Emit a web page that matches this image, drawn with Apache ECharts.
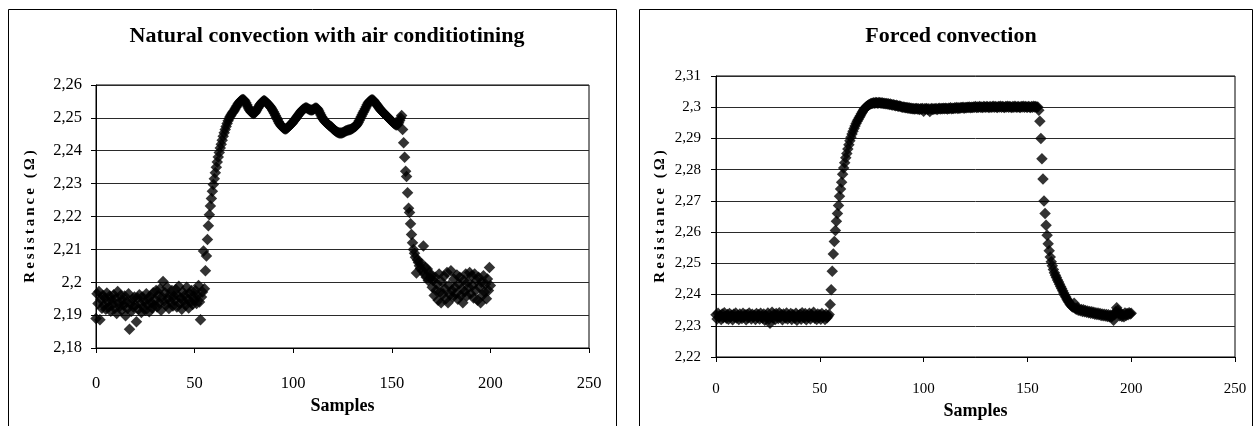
<!DOCTYPE html>
<html>
<head>
<meta charset="utf-8">
<title>Resistance vs samples</title>
<script src="https://cdn.jsdelivr.net/npm/echarts@6/dist/echarts.min.js"></script>
<style>
  html, body { margin: 0; padding: 0; background: #fff; }
  #chart { width: 1257px; height: 426px; }
</style>
</head>
<body>
<div id="chart"></div>
<script>
// Sample spacing along the x axis (two readings per sample unit)
const SAMPLE_STEP = 0.5;

// Natural convection with air conditioning: resistance (ohm), samples 0..200
const naturalResistance = [
  2.1890, 2.1965, 2.1935, 2.1972, 2.1886, 2.1948, 2.1921, 2.1960, 2.1930, 2.1952, 2.1918, 2.1967, 2.1940, 2.1925, 2.1958, 2.1912, 2.1945, 2.1932, 2.1962, 2.1920,
  2.1950, 2.1905, 2.1972, 2.1938, 2.1926, 2.1960, 2.1915, 2.1945, 2.1930, 2.1958, 2.1898, 2.1940, 2.1920, 2.1965, 2.1857, 2.1935, 2.1912, 2.1948, 2.1925, 2.1955,
  2.1930, 2.1880, 2.1952, 2.1918, 2.1962, 2.1935, 2.1908, 2.1955, 2.1925, 2.1942, 2.1915, 2.1965, 2.1932, 2.1950, 2.1910, 2.1958, 2.1938, 2.1922, 2.1968, 2.1930,
  2.1945, 2.1975, 2.1925, 2.1960, 2.1938, 2.1980, 2.1915, 2.1955, 2.2002, 2.1942, 2.1968, 2.1930, 2.1985, 2.1950, 2.1920, 2.1962, 2.1940, 2.1975, 2.1928, 2.1958,
  2.1945, 2.1978, 2.1925, 2.1960, 2.1988, 2.1935, 2.1952, 2.1918, 2.1970, 2.1942, 2.1960, 2.1930, 2.1985, 2.1948, 2.1922, 2.1965, 2.1940, 2.1975, 2.1932, 2.1958,
  2.1945, 2.1975, 2.1935, 2.1960, 2.1990, 2.1940, 2.1886, 2.1955, 2.1970, 2.2095, 2.1980, 2.2035, 2.2080, 2.2130, 2.2172, 2.2205, 2.2232, 2.2255, 2.2277, 2.2297,
  2.2315, 2.2333, 2.2350, 2.2366, 2.2381, 2.2395, 2.2408, 2.2420, 2.2432, 2.2444, 2.2455, 2.2465, 2.2474, 2.2483, 2.2491, 2.2498, 2.2504, 2.2509, 2.2514, 2.2518,
  2.2522, 2.2527, 2.2532, 2.2537, 2.2542, 2.2546, 2.2550, 2.2553, 2.2555, 2.2556, 2.2555, 2.2551, 2.2546, 2.2540, 2.2534, 2.2528, 2.2523, 2.2519, 2.2516, 2.2514,
  2.2513, 2.2515, 2.2519, 2.2524, 2.2529, 2.2534, 2.2539, 2.2543, 2.2547, 2.2550, 2.2552, 2.2552, 2.2550, 2.2547, 2.2544, 2.2541, 2.2537, 2.2533, 2.2529, 2.2524,
  2.2519, 2.2513, 2.2507, 2.2501, 2.2495, 2.2489, 2.2484, 2.2479, 2.2475, 2.2472, 2.2469, 2.2467, 2.2466, 2.2467, 2.2469, 2.2472, 2.2475, 2.2478, 2.2481, 2.2484,
  2.2488, 2.2492, 2.2496, 2.2500, 2.2504, 2.2508, 2.2512, 2.2516, 2.2520, 2.2523, 2.2526, 2.2528, 2.2530, 2.2531, 2.2530, 2.2528, 2.2526, 2.2525, 2.2524, 2.2524,
  2.2525, 2.2527, 2.2529, 2.2530, 2.2529, 2.2526, 2.2521, 2.2515, 2.2509, 2.2503, 2.2498, 2.2494, 2.2490, 2.2487, 2.2484, 2.2481, 2.2478, 2.2476, 2.2474, 2.2472,
  2.2468, 2.2465, 2.2462, 2.2460, 2.2458, 2.2456, 2.2455, 2.2454, 2.2454, 2.2454, 2.2455, 2.2456, 2.2458, 2.2460, 2.2461, 2.2462, 2.2463, 2.2464, 2.2465, 2.2466,
  2.2468, 2.2470, 2.2472, 2.2474, 2.2477, 2.2481, 2.2486, 2.2492, 2.2498, 2.2504, 2.2510, 2.2516, 2.2522, 2.2528, 2.2534, 2.2540, 2.2545, 2.2549, 2.2552, 2.2554,
  2.2555, 2.2554, 2.2551, 2.2547, 2.2543, 2.2539, 2.2535, 2.2531, 2.2527, 2.2523, 2.2520, 2.2517, 2.2514, 2.2511, 2.2508, 2.2505, 2.2502, 2.2499, 2.2496, 2.2493,
  2.2490, 2.2487, 2.2484, 2.2481, 2.2479, 2.2478, 2.2480, 2.2485, 2.2492, 2.2500, 2.2507, 2.2465, 2.2424, 2.2380, 2.2338, 2.2322, 2.2272, 2.2225, 2.2212, 2.2178,
  2.2145, 2.2120, 2.2100, 2.2088, 2.2076, 2.2028, 2.2068, 2.2060, 2.2050, 2.2042, 2.2058, 2.2035, 2.2110, 2.2025, 2.2045, 2.2015, 2.2040, 2.2005, 2.2030, 2.2012,
  2.2020, 2.1985, 2.2005, 2.1960, 2.2015, 2.1975, 2.1995, 2.1945, 2.2025, 2.1970, 2.1938, 2.2000, 2.1965, 2.2018, 2.1980, 2.1950, 2.2030, 2.1938, 2.1990, 2.1962,
  2.2035, 2.1975, 2.1955, 2.2010, 2.1985, 2.1965, 2.2022, 2.1948, 2.1995, 2.2015, 2.1960, 2.1980, 2.1938, 2.2005, 2.1972, 2.2025, 2.1958, 2.2000, 2.1985, 2.2030,
  2.1965, 2.2020, 2.1990, 2.1952, 2.2025, 2.1975, 2.2005, 2.1945, 2.2015, 2.1985, 2.1938, 2.2000, 2.1960, 2.2020, 2.1970, 2.1995, 2.1950, 2.2010, 2.1975, 2.2045,
  2.1990
];

// Forced convection: resistance (ohm), samples 0..200
const forcedResistance = [
  2.2335, 2.2322, 2.2340, 2.2328, 2.2333, 2.2320, 2.2338, 2.2326, 2.2342, 2.2330, 2.2324, 2.2336, 2.2321, 2.2339, 2.2329, 2.2334, 2.2319, 2.2337, 2.2327, 2.2341,
  2.2325, 2.2333, 2.2320, 2.2338, 2.2330, 2.2323, 2.2340, 2.2328, 2.2335, 2.2319, 2.2336, 2.2326, 2.2341, 2.2331, 2.2322, 2.2337, 2.2329, 2.2334, 2.2320, 2.2339,
  2.2327, 2.2335, 2.2322, 2.2340, 2.2330, 2.2324, 2.2338, 2.2318, 2.2333, 2.2326, 2.2341, 2.2321, 2.2308, 2.2329, 2.2343, 2.2325, 2.2336, 2.2320, 2.2339, 2.2331,
  2.2323, 2.2342, 2.2328, 2.2335, 2.2319, 2.2338, 2.2330, 2.2325, 2.2341, 2.2322, 2.2334, 2.2327, 2.2339, 2.2320, 2.2336, 2.2331, 2.2324, 2.2340, 2.2318, 2.2333,
  2.2328, 2.2337, 2.2321, 2.2342, 2.2330, 2.2325, 2.2339, 2.2319, 2.2334, 2.2327, 2.2340, 2.2322, 2.2336, 2.2329, 2.2343, 2.2324, 2.2331, 2.2320, 2.2338, 2.2326,
  2.2335, 2.2321, 2.2339, 2.2328, 2.2333, 2.2320, 2.2337, 2.2326, 2.2331, 2.2336, 2.2368, 2.2415, 2.2475, 2.2530, 2.2570, 2.2605, 2.2635, 2.2660, 2.2685, 2.2715,
  2.2738, 2.2760, 2.2785, 2.2805, 2.2822, 2.2838, 2.2852, 2.2866, 2.2880, 2.2893, 2.2904, 2.2914, 2.2923, 2.2932, 2.2940, 2.2948, 2.2955, 2.2961, 2.2967, 2.2973,
  2.2979, 2.2985, 2.2990, 2.2995, 2.2999, 2.3002, 2.3005, 2.3007, 2.3009, 2.3011, 2.3012, 2.3013, 2.3014, 2.3013, 2.3015, 2.3014, 2.3013, 2.3015, 2.3014, 2.3013,
  2.3014, 2.3012, 2.3013, 2.3011, 2.3012, 2.3010, 2.3011, 2.3009, 2.3010, 2.3008, 2.3007, 2.3008, 2.3006, 2.3005, 2.3006, 2.3004, 2.3003, 2.3004, 2.3002, 2.3001,
  2.3000, 2.3001, 2.2999, 2.2998, 2.2999, 2.2997, 2.2998, 2.2996, 2.2997, 2.2995, 2.2996, 2.2994, 2.2995, 2.2996, 2.2994, 2.2995, 2.2993, 2.2995, 2.2994, 2.2996,
  2.2987, 2.2995, 2.2994, 2.2996, 2.2993, 2.2995, 2.2986, 2.2994, 2.2996, 2.2993, 2.2995, 2.2994, 2.2996, 2.2993, 2.2995, 2.2997, 2.2994, 2.2996, 2.2995, 2.2997,
  2.2995, 2.2997, 2.2996, 2.2994, 2.2997, 2.2996, 2.2998, 2.2995, 2.2997, 2.2996, 2.2998, 2.2997, 2.2999, 2.2996, 2.2998, 2.2997, 2.2999, 2.2998, 2.3000, 2.2997,
  2.2999, 2.2998, 2.3000, 2.2999, 2.3001, 2.2998, 2.3000, 2.2999, 2.3001, 2.3000, 2.3002, 2.2999, 2.3001, 2.3000, 2.3002, 2.3000, 2.3001, 2.2999, 2.3002, 2.3001,
  2.3000, 2.3002, 2.3001, 2.2999, 2.3002, 2.3000, 2.3001, 2.3003, 2.3000, 2.3002, 2.3001, 2.2999, 2.3002, 2.3001, 2.3003, 2.3000, 2.3002, 2.3001, 2.2999, 2.3002,
  2.3001, 2.3003, 2.3000, 2.3002, 2.3001, 2.2999, 2.3002, 2.3000, 2.3003, 2.3001, 2.3000, 2.3002, 2.3001, 2.2999, 2.3002, 2.3001, 2.3003, 2.3000, 2.3002, 2.3001,
  2.3000, 2.3002, 2.3001, 2.2999, 2.3002, 2.3000, 2.3003, 2.3001, 2.3002, 2.3000, 2.3001, 2.2990, 2.2955, 2.2900, 2.2835, 2.2770, 2.2700, 2.2660, 2.2622, 2.2590,
  2.2563, 2.2540, 2.2520, 2.2505, 2.2492, 2.2480, 2.2470, 2.2462, 2.2455, 2.2447, 2.2440, 2.2433, 2.2426, 2.2419, 2.2412, 2.2405, 2.2398, 2.2392, 2.2386, 2.2380,
  2.2375, 2.2370, 2.2366, 2.2362, 2.2359, 2.2372, 2.2356, 2.2353, 2.2358, 2.2350, 2.2354, 2.2348, 2.2352, 2.2346, 2.2351, 2.2345, 2.2349, 2.2343, 2.2347, 2.2342,
  2.2346, 2.2340, 2.2345, 2.2339, 2.2343, 2.2337, 2.2342, 2.2336, 2.2341, 2.2335, 2.2339, 2.2333, 2.2338, 2.2332, 2.2337, 2.2331, 2.2336, 2.2330, 2.2335, 2.2329,
  2.2334, 2.2328, 2.2333, 2.2318, 2.2335, 2.2345, 2.2358, 2.2350, 2.2340, 2.2332, 2.2338, 2.2330, 2.2336, 2.2329, 2.2341, 2.2333, 2.2339, 2.2335, 2.2342, 2.2338,
  2.2340
];

// Axis ranges
const xRange = [0, 250, 50];
const naturalYRange = [2.18, 2.26, 0.01];
const forcedYRange = [2.22, 2.31, 0.01];

// Text
const titles = ['Natural convection with air conditiotining', 'Forced convection'];
const xName = 'Samples';
const yName = 'Resistance (Ω)';

const SERIF = '"Liberation Serif", "Times New Roman", serif';
const spacedYName = yName.split('').join('\u2009');

function toPoints(values) {
  return values.map((v, i) => [i * SAMPLE_STEP, v]);
}

function commaLabel(v) {
  return String(+v.toFixed(2)).replace('.', ',');
}

function makeXAxis(gridIndex, fontSize, margin, nameGap) {
  return {
    gridIndex,
    type: 'value',
    min: xRange[0], max: xRange[1], interval: xRange[2],
    axisLine: { show: true, onZero: false, lineStyle: { color: '#000', width: 1 } },
    axisTick: { show: true, inside: false, length: 5, lineStyle: { color: '#000', width: 1 } },
    splitLine: { show: false },
    axisLabel: { color: '#000', fontFamily: SERIF, fontSize, margin },
    name: xName,
    nameLocation: 'middle',
    nameGap,
    nameTextStyle: { color: '#000', fontFamily: SERIF, fontSize: 18, fontWeight: 'bold' }
  };
}

function makeYAxis(gridIndex, range, fontSize, margin, nameGap) {
  return {
    gridIndex,
    type: 'value',
    min: range[0], max: range[1], interval: range[2],
    axisLine: { show: true, onZero: false, lineStyle: { color: '#000', width: 1 } },
    axisTick: { show: true, inside: false, length: 5, lineStyle: { color: '#000', width: 1 } },
    splitLine: { show: true, lineStyle: { color: '#2a2a2a', width: 1 } },
    axisLabel: { color: '#000', fontFamily: SERIF, fontSize, margin, formatter: commaLabel },
    name: spacedYName,
    nameLocation: 'middle',
    nameRotate: 90,
    nameGap,
    nameTextStyle: { color: '#000', fontFamily: SERIF, fontSize: 15, fontWeight: 'bold' }
  };
}

function makeSeries(index, values) {
  return {
    type: 'scatter',
    xAxisIndex: index,
    yAxisIndex: index,
    data: toPoints(values),
    symbol: 'diamond',
    symbolSize: 11.5,
    itemStyle: { color: '#000' },
    silent: true,
    animation: false
  };
}

const chart = echarts.init(document.getElementById('chart'), null, { renderer: 'canvas' });

chart.setOption({
  animation: false,
  backgroundColor: '#fff',
  grid: [
    { left: 96, top: 85, width: 493, height: 263, show: true, borderColor: '#000', borderWidth: 1, outerBoundsMode: 'none' },
    { left: 716, top: 76, width: 519, height: 281, show: true, borderColor: '#000', borderWidth: 1, outerBoundsMode: 'none' }
  ],
  xAxis: [
    makeXAxis(0, 16.5, 27, 49),
    makeXAxis(1, 15, 25, 40)
  ],
  yAxis: [
    makeYAxis(0, naturalYRange, 16.5, 14, 58),
    makeYAxis(1, forcedYRange, 15, 15, 48)
  ],
  series: [
    makeSeries(0, naturalResistance),
    makeSeries(1, forcedResistance)
  ],
  graphic: [
    { type: 'rect', shape: { x: 8.5, y: 9.5, width: 608, height: 500 }, style: { fill: null, stroke: '#000', lineWidth: 1 }, silent: true },
    { type: 'rect', shape: { x: 639.5, y: 9.5, width: 613, height: 500 }, style: { fill: null, stroke: '#000', lineWidth: 1 }, silent: true },
    { type: 'text', x: 327, y: 36, style: { text: titles[0], font: 'bold 22px ' + SERIF, fill: '#000', textAlign: 'center', textVerticalAlign: 'middle' }, silent: true },
    { type: 'text', x: 951, y: 36, style: { text: titles[1], font: 'bold 22px ' + SERIF, fill: '#000', textAlign: 'center', textVerticalAlign: 'middle' }, silent: true }
  ]
});
</script>
</body>
</html>
